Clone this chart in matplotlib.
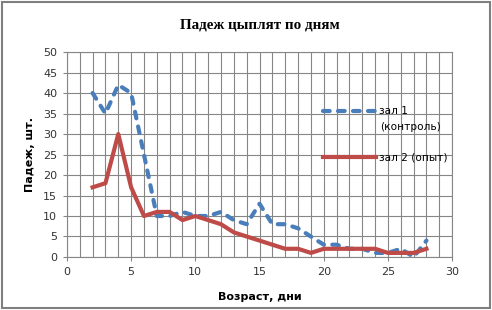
import matplotlib
matplotlib.use("Agg")
import matplotlib.pyplot as plt
from matplotlib.patches import Rectangle
from matplotlib.ticker import MultipleLocator

# days of age
days = list(range(2, 29))
# hall 1 (control)
hall1 = [40, 35, 42, 40, 25, 10, 10, 11, 10, 10, 11, 9, 8, 13, 8,
         8, 7, 5, 3, 3, 2, 2, 1, 1, 2, 0, 4]
# hall 2 (experiment)
hall2 = [17, 18, 30, 17, 10, 11, 11, 9, 10, 9, 8, 6, 5, 4, 3,
         2, 2, 1, 2, 2, 2, 2, 2, 1, 1, 1, 2]

BLUE = "#4A7EBB"
RED = "#BE4B48"
GRID = "#868686"

fig = plt.figure(figsize=(4.92, 3.10), dpi=100)
ax = fig.add_axes([0.136, 0.171, 0.783, 0.661])

ax.plot(days, hall1, color=BLUE, linewidth=3.0, linestyle=(0, (1.6, 2.0)),
        dash_capstyle="round", label="зал 1", zorder=3)
ax.plot(days, hall2, color=RED, linewidth=3.0, label="зал 2 (опыт)", zorder=3)

ax.set_xlim(0, 30)
ax.set_ylim(0, 50)
ax.xaxis.set_major_locator(MultipleLocator(5))
ax.xaxis.set_minor_locator(MultipleLocator(1))
ax.yaxis.set_major_locator(MultipleLocator(5))
ax.grid(which="major", color=GRID, linewidth=0.8)
ax.grid(which="minor", axis="x", color=GRID, linewidth=0.8)
ax.tick_params(which="both", length=0, labelsize=8, colors="#333333", pad=4)
ax.tick_params(axis="y", which="major", length=3, color=GRID)
ax.tick_params(axis="x", which="major", length=3, color=GRID)
for s in ax.spines.values():
    s.set_color(GRID)
    s.set_linewidth(0.8)

ax.set_title("Падеж цыплят по дням", fontsize=10.8, fontweight="bold",
             family="Liberation Serif", pad=17)
ax.set_xlabel("Возраст, дни", fontsize=8, fontweight="bold", labelpad=11)
ax.set_ylabel("Падеж, шт.", fontsize=8, fontweight="bold", labelpad=6)

leg = ax.legend(loc="upper left", bbox_to_anchor=(0.666, 0.735), frameon=False,
                fontsize=7.6, handlelength=5.0, handletextpad=0.28,
                labelspacing=3.4, borderpad=0, borderaxespad=0)
for h in leg.legend_handles:
    h.set_linewidth(3.0)

# second line of the first legend label, as in the source chart
ax.text(0.813, 0.634, "(контроль)", transform=ax.transAxes, fontsize=7.6,
        va="center", ha="left", zorder=5)

fig.patches.append(Rectangle((0.004, 0.006), 0.992, 0.988, transform=fig.transFigure,
                             fill=False, edgecolor="#7f7f7f", linewidth=1.5))

fig.savefig("out.png", dpi=100)
